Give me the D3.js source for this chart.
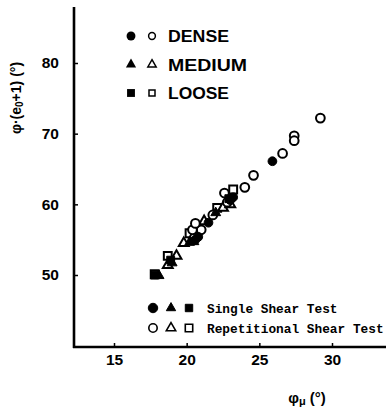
<!DOCTYPE html>
<html><head><meta charset="utf-8">
<script src="https://cdn.jsdelivr.net/npm/d3@7"></script>
<style>body{margin:0;background:#fff}svg{display:block}</style>
</head><body>
<svg id="c" width="386" height="414"></svg>
<script>
// Data: [phi_mu (deg), phi*(e0+1) (deg)]
const denseSingle  = [[25.9,66.1],[23.0,60.6],[23.2,61.0],[21.5,57.4],[20.8,55.4],[20.6,55.0]];
const denseRep     = [[29.2,72.2],[27.4,69.7],[27.4,69.0],[26.6,67.2],[24.6,64.1],[24.0,62.4],[22.6,61.6],[22.8,60.3],[21.8,58.5],[21.0,56.4],[20.4,56.4],[20.6,57.3]];
const mediumSingle = [[18.1,49.9],[19.0,51.7],[20.5,54.7],[22.0,58.8],[20.2,54.6]];
const mediumRep    = [[19.8,54.5],[19.3,52.7],[18.7,51.4],[22.5,59.5],[20.5,55.6],[23.0,60.0],[21.2,57.6]];
const looseSingle  = [[17.8,50.0],[18.9,52.1],[22.9,60.8]];
const looseRep     = [[23.2,62.1],[17.8,50.1],[18.7,52.7],[20.7,56.9],[22.1,59.5],[20.2,55.9]];
const xTicks = [15,20,25,30];
const yTicks = [50,60,70,80];
const densityLabels = ["DENSE","MEDIUM","LOOSE"];
const testLabels = ["Single Shear Test","Repetitional Shear Test"];

const svg = d3.select("#c");
const x = d3.scaleLinear().domain([15,30]).range([114,332]);
const y = d3.scaleLinear().domain([50,80]).range([275,63]);
const x0 = x.invert(74), y0 = y.invert(347);

const sans = "'Liberation Sans', Arial, sans-serif";

// axes lines
svg.append("line").attr("x1",x(x0)).attr("x2",x(x0)).attr("y1",y(y.invert(7))).attr("y2",y(y0)+1)
  .attr("stroke","#000").attr("stroke-width",2.6);
svg.append("line").attr("x1",x(x0)-1).attr("x2",386).attr("y1",y(y0)).attr("y2",y(y0))
  .attr("stroke","#000").attr("stroke-width",2.6);

// y axis ticks
const ya = svg.append("g").attr("transform",`translate(${x(x0)},0)`)
  .call(d3.axisLeft(y).tickValues(yTicks).tickSizeInner(-4).tickSizeOuter(0).tickPadding(15));
ya.select(".domain").remove();
ya.selectAll("line").attr("stroke-width",1.5);
ya.selectAll("text").attr("font-family",sans).attr("font-weight","bold").attr("font-size",15.5);

// x axis ticks
const xa = svg.append("g").attr("transform",`translate(0,${y(y0)})`)
  .call(d3.axisBottom(x).tickValues(xTicks).tickSizeInner(-4).tickSizeOuter(0).tickPadding(7));
xa.select(".domain").remove();
xa.selectAll("line").attr("stroke-width",1.5);
xa.selectAll("text").attr("font-family",sans).attr("font-weight","bold").attr("font-size",15.5);

// axis titles
const xt = svg.append("text").attr("x",307).attr("y",403).attr("text-anchor","middle")
  .attr("font-family",sans).attr("font-weight","bold").attr("font-size",15);
xt.append("tspan").text("φ");
xt.append("tspan").attr("font-size",11).attr("dy",2).text("μ");
xt.append("tspan").attr("dy",-2).text("  (°)");

const yt = svg.append("text").attr("transform","translate(21,98) rotate(-90)").attr("text-anchor","middle")
  .attr("font-family",sans).attr("font-weight","bold").attr("font-size",14);
yt.append("tspan").text("φ·(e");
yt.append("tspan").attr("font-size",10).attr("dy",2).text("0");
yt.append("tspan").attr("dy",-2).text("+1) (°)");

// markers
const shapes = {circle:d3.symbolCircle, triangle:d3.symbolTriangle, square:d3.symbolSquare};
const sizes = {circle:60, triangle:42, square:62};
function draw(data, shape, filled){
  svg.append("g").selectAll("path").data(data).join("path")
    .attr("transform",d=>`translate(${x(d[0])},${y(d[1])})`)
    .attr("d",d3.symbol().type(shapes[shape]).size(sizes[shape]))
    .attr("fill",filled?"#000":"#fff").attr("stroke","#000").attr("stroke-width",filled?1:2);
}
draw(looseRep,"square",false);
draw(mediumRep,"triangle",false);
draw(denseRep,"circle",false);
draw(looseSingle,"square",true);
draw(mediumSingle,"triangle",true);
draw(denseSingle,"circle",true);

// top legend
const legShapes = ["circle","triangle","square"];
densityLabels.forEach((lab,i)=>{
  const ly = 36 + i*28.5;
  svg.append("path").attr("transform",`translate(131,${ly})`)
    .attr("d",d3.symbol().type(shapes[legShapes[i]]).size(legShapes[i]==="triangle"?45:62)).attr("fill","#000");
  svg.append("path").attr("transform",`translate(152,${ly})`)
    .attr("d",d3.symbol().type(shapes[legShapes[i]]).size(legShapes[i]==="triangle"?30:36))
    .attr("fill","#fff").attr("stroke","#000").attr("stroke-width",1.5);
  svg.append("text").attr("x",168).attr("y",ly+6).text(lab)
    .attr("font-family",sans).attr("font-weight","bold").attr("font-size",16)
    .attr("textLength",[61,79,61][i]).attr("lengthAdjust","spacingAndGlyphs");
});

// bottom legend
testLabels.forEach((lab,i)=>{
  const ly = 308 + i*20;
  legShapes.forEach((s,j)=>{
    svg.append("path").attr("transform",`translate(${153+j*18},${ly})`)
      .attr("d",d3.symbol().type(shapes[s]).size(s==="triangle"?38:(i===0&&s==="circle"?70:55)))
      .attr("fill",i===0?"#000":"#fff").attr("stroke","#000").attr("stroke-width",i===0?1:1.6);
  });
  svg.append("text").attr("x",207).attr("y",ly+5).text(lab)
    .attr("font-family","'Liberation Mono', monospace").attr("font-weight","bold").attr("font-size",12.8);
});
</script>
</body></html>
